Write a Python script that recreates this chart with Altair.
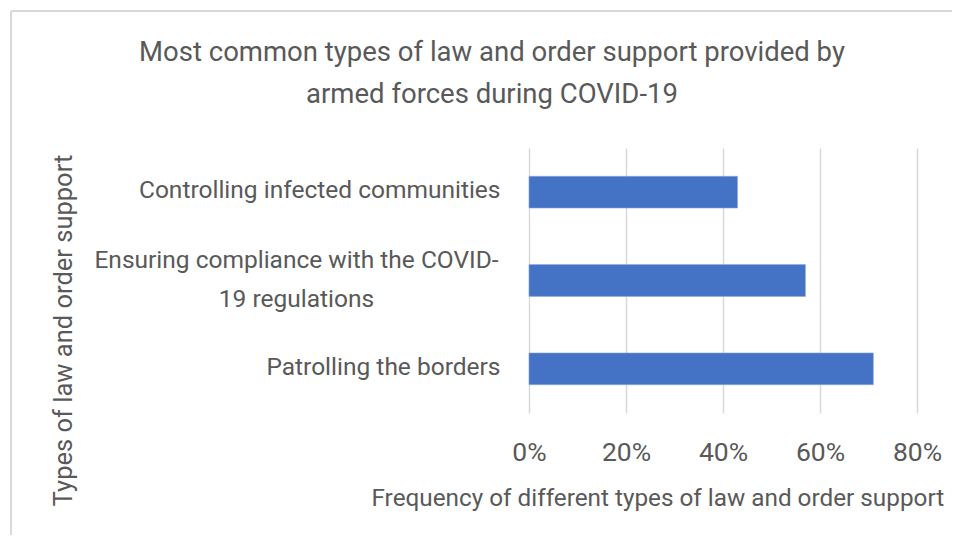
import altair as alt
import pandas as pd

categories = [
    "Controlling infected communities",
    "Ensuring compliance with the COVID-19 regulations",
    "Patrolling the borders",
]
values = [0.43, 0.57, 0.71]
x_ticks = [0, 0.2, 0.4, 0.6, 0.8]

df = pd.DataFrame({"type": categories, "freq": values})

TXT = "#595959"
FONT = "Roboto"
FS = 24.5
ENS = categories[1]
TEST = "datum.value == '" + ENS + "'"

label_expr = (
    TEST + " ? ['Ensuring compliance with the COVID-', '19 regulations'] : datum.value"
)

bars = alt.Chart(df).mark_bar(color="#4472C4", stroke="#8FAADC", strokeWidth=0.6).encode(
    x=alt.X(
        "freq:Q",
        scale=alt.Scale(domain=[0, 0.8], nice=False, zero=True),
        axis=alt.Axis(
            values=x_ticks,
            format=".0%",
            grid=True,
            gridColor="#D9D9D9",
            gridWidth=1.5,
            domain=False,
            ticks=False,
            tickSize=0,
            labelFlush=False,
            labelBaseline="middle",
            labelPadding=39,
            labelFontSize=26.5,
            labelColor=TXT,
            labelFont=FONT,
            title="Frequency of different types of law and order support",
            titleFont=FONT,
            titleFontSize=24.3,
            titleFontWeight="normal",
            titleColor=TXT,
            titleAlign="left",
            titleBaseline="middle",
            titleAnchor="start",
            titleX=-158,
            titleY=85,
        ),
    ),
    y=alt.Y(
        "type:N",
        sort=categories,
        scale=alt.Scale(paddingInner=0.64, paddingOuter=0.32),
        axis=alt.Axis(
            labelExpr=label_expr,
            domain=False,
            ticks=False,
            tickSize=0,
            labelFontSize=FS,
            labelColor=TXT,
            labelFont=FONT,
            labelLimit=500,
            labelLineHeight=39,
            labelAlign={"condition": {"test": TEST, "value": "center"}, "value": "right"},
            labelPadding={"condition": {"test": TEST, "value": 233}, "value": 29},
            labelOffset={"condition": {"test": TEST, "value": -20}, "value": -1},
            title="Types of law and order support",
            titleFont=FONT,
            titleFontSize=25.5,
            titleFontWeight="normal",
            titleColor=TXT,
            titleAngle=270,
            titleAlign="center",
            titleBaseline="middle",
            titleX=-466,
            titleY=182,
        ),
    ),
)

border_df = pd.DataFrame({"k": [0]})
left_border = alt.Chart(border_df).mark_rule(color="#D9D9D9", strokeWidth=2).encode(
    x=alt.value(-518), y=alt.value(-137), y2=alt.value(400)
)
top_border = alt.Chart(border_df).mark_rule(color="#D9D9D9", strokeWidth=2).encode(
    y=alt.value(-137), x=alt.value(-518), x2=alt.value(450)
)

chart = alt.layer(left_border, top_border, bars).properties(
    width=388,
    height=265,
    autosize=alt.AutoSizeParams(type="none"),
    padding={"left": 521, "top": 140, "right": 35, "bottom": 122},
    title=alt.TitleParams(
        ["Most common types of law and order support provided by", "armed forces during COVID-19"],
        font=FONT,
        fontSize=27.5,
        fontWeight="normal",
        color=TXT,
        anchor="middle",
        lineHeight=42,
        dx=-231,
        dy=98,
        offset=0,
    ),
).configure(background="white", view=alt.ViewConfig(stroke=None))

chart.save("out.html", embed_options={"renderer": "svg", "actions": False})
